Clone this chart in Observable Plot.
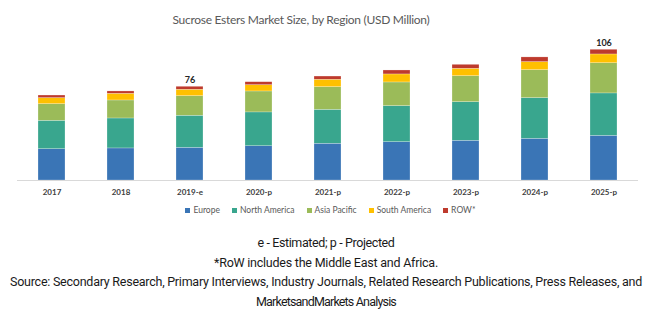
<!DOCTYPE html>
<html><head><meta charset="utf-8">
<script src="https://cdn.jsdelivr.net/npm/d3@7"></script>
<script src="https://cdn.jsdelivr.net/npm/@observablehq/plot@0.6"></script>
<style>
body{margin:0;background:#fff;}
#wrap{position:relative;width:650px;height:322px;overflow:hidden;background:#fff;}
#title{position:absolute;left:0;width:602px;top:12px;line-height:16px;text-align:center;font-family:Lato,sans-serif;font-size:12px;color:#595959;white-space:nowrap;}
#chart{position:absolute;left:0;top:30px;}
#legend{position:absolute;left:0;width:661px;top:204px;height:12px;display:flex;justify-content:center;align-items:center;font-family:Lato,sans-serif;font-size:8.5px;color:#595959;}
.item{display:flex;align-items:center;margin:0 6px;white-space:nowrap;}
.sw{width:5px;height:5px;margin-right:3px;}
#caption{position:absolute;left:0;width:652px;top:233px;text-align:center;font-family:Roboto,sans-serif;font-size:12.5px;line-height:19.7px;color:#1a1a1a;white-space:nowrap;}
#caption span{display:inline-block;}
</style></head>
<body>
<div id="wrap">
  <div id="title"><span id="titleText">Sucrose Esters Market Size, by Region (USD Million)</span></div>
  <div id="chart"></div>
  <div id="legend"></div>
  <div id="caption"><span>e - Estimated; p - Projected</span><br><span>*RoW includes the Middle East and Africa.</span><br><span>Source: Secondary Research, Primary Interviews, Industry Journals, Related Research Publications, Press Releases, and</span><br><span>MarketsandMarkets Analysis</span></div>
</div>
<script>
const years = ["2017","2018","2019-e","2020-p","2021-p","2022-p","2023-p","2024-p","2025-p"];
const regions = ["Europe","North America","Asia Pacific","South America","ROW*"];
const europe = [25.4,26.0,26.5,27.8,29.8,31.1,32.2,33.8,36.2];
const northAmerica = [23.0,24.3,26.0,27.4,27.5,29.2,31.3,33.0,34.4];
const asiaPacific = [13.5,14.6,15.9,17.0,18.4,19.2,21.1,22.7,24.5];
const southAmerica = [4.9,5.4,5.2,5.1,6.0,6.5,6.0,6.5,7.1];
const rowValues = [2.1,1.9,2.4,2.4,2.6,3.2,3.2,3.8,3.8];
const colors = ["#3a75b6","#39a68e","#9bbb59","#ffc000","#be3a2d"];
const labelYears = ["2019-e","2025-p"];
const labelValues = [76,106];

const series = [europe, northAmerica, asiaPacific, southAmerica, rowValues];
const data = [];
years.forEach((y, i) => {
  regions.forEach((r, j) => data.push({year: y, region: r, value: series[j][i]}));
});
const labels = labelYears.map((y, i) => ({year: y, value: labelValues[i]}));

const chart = Plot.plot({
  width: 650,
  height: 170,
  marginLeft: 17,
  marginRight: 12,
  marginTop: 2,
  marginBottom: 20,
  style: {fontFamily: "Lato, sans-serif", fontSize: "8px", color: "#404040", background: "transparent"},
  x: {domain: years, paddingInner: 0.61, paddingOuter: 0.305, label: null},
  y: {domain: [0, 120], axis: null},
  color: {domain: regions, range: colors},
  marks: [
    Plot.barY(data, {x: "year", y: "value", fill: "region", stroke: "#ffffff", strokeWidth: 0.4, strokeOpacity: 0.6}),
    Plot.ruleY([0], {stroke: "#d9d9d9"}),
    Plot.axisX({tickSize: 0, tickPadding: 9, fontWeight: "bold"}),
    Plot.text(labels, {x: "year", y: "value", text: d => String(d.value), dy: -7, fontWeight: "bold", fontSize: 9, fill: "#262626"})
  ]
});
document.getElementById("chart").appendChild(chart);

const legend = document.getElementById("legend");
regions.forEach((r, i) => {
  const item = document.createElement("div");
  item.className = "item";
  const sw = document.createElement("div");
  sw.className = "sw";
  sw.style.background = colors[i];
  const t = document.createElement("span");
  t.textContent = r;
  item.appendChild(sw);
  item.appendChild(t);
  legend.appendChild(item);
});

// fit text widths to the reference by adjusting letter spacing
function fit(el, target) {
  const w = el.getBoundingClientRect().width;
  const n = el.textContent.length;
  el.style.letterSpacing = ((target - w) / n) + "px";
}
fit(document.getElementById("titleText"), 257);
const capSpans = document.querySelectorAll("#caption span");
[137, 224, 632, 140].forEach((t, i) => fit(capSpans[i], t));
</script>
</body></html>
